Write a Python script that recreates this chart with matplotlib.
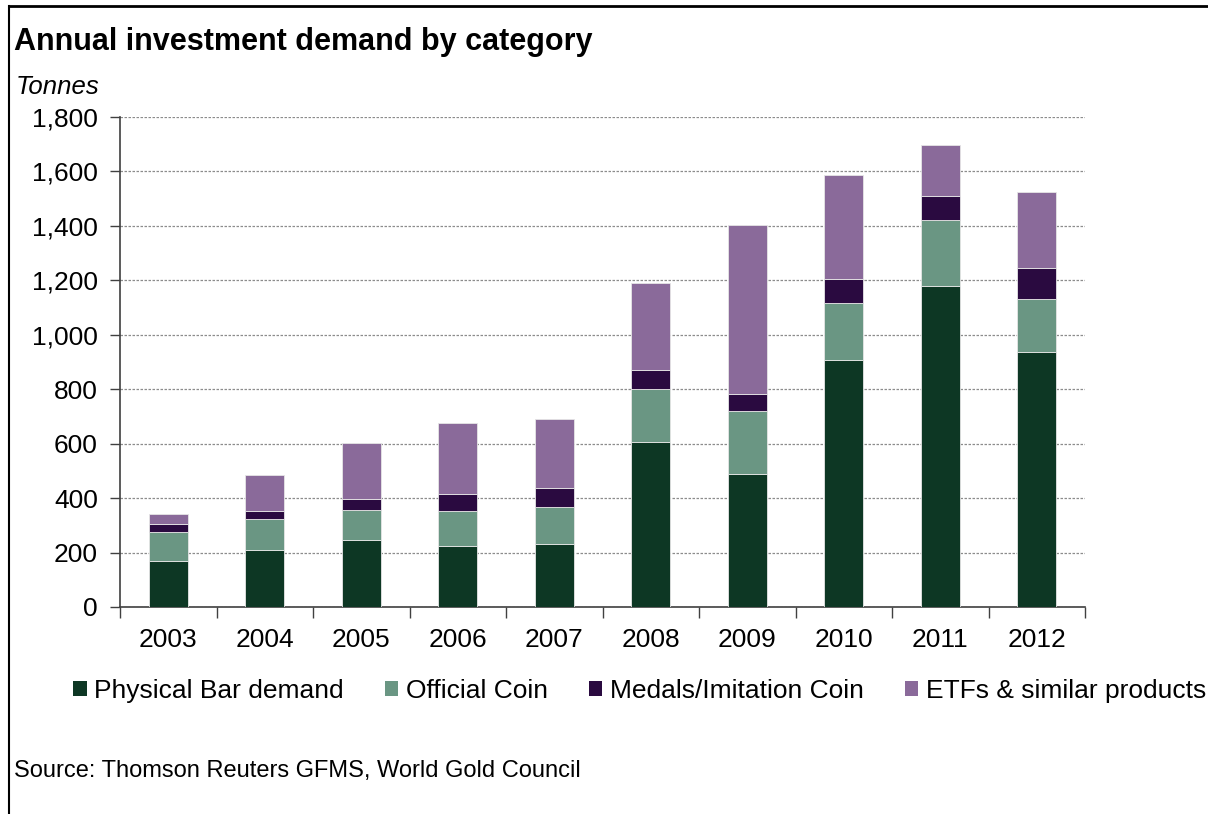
import matplotlib
matplotlib.use("Agg")
import matplotlib.pyplot as plt
from matplotlib.patches import Patch
from matplotlib.lines import Line2D
import numpy as np

plt.rcParams['font.family'] = ['Liberation Sans', 'DejaVu Sans']

years = ["2003", "2004", "2005", "2006", "2007", "2008", "2009", "2010", "2011", "2012"]
physical_bar = [170, 208, 247, 225, 231, 607, 490, 907, 1181, 936]
official_coin = [107, 116, 110, 129, 137, 195, 231, 210, 242, 196]
medals_imitation = [27, 29, 38, 60, 70, 68, 60, 89, 87, 114]
etfs = [39, 131, 206, 262, 252, 321, 621, 382, 187, 279]

series_names = ["Physical Bar demand", "Official Coin", "Medals/Imitation Coin", "ETFs & similar products"]
series_colors = ["#0d3724", "#6a9683", "#2a0a40", "#8a6a9a"]
y_ticks = [0, 200, 400, 600, 800, 1000, 1200, 1400, 1600, 1800]

W, H = 1208, 814
fig = plt.figure(figsize=(W / 100, H / 100), dpi=100)
fig.patch.set_facecolor("white")

ax = fig.add_axes([120 / W, (H - 607) / H, 965 / W, 490 / H])

x = np.arange(len(years))
bottom = np.zeros(len(years))
for vals, name, col in zip([physical_bar, official_coin, medals_imitation, etfs],
                           series_names, series_colors):
    ax.bar(x, vals, width=0.40, bottom=bottom, color=col, edgecolor="#e6e6e6",
           linewidth=0.6, label=name, zorder=3)
    bottom += np.array(vals)

ax.set_xlim(-0.5, len(years) - 0.5)
ax.set_ylim(0, 1800)
ax.set_yticks(y_ticks)
ax.set_yticklabels([f"{v:,}" for v in y_ticks], fontsize=19)
ax.yaxis.grid(True, linestyle=(0, (2, 1.2)), color="#8c8c8c", linewidth=0.9, zorder=0)

# category labels centred on bars, tick marks on category boundaries
ax.set_xticks(x)
ax.set_xticklabels(years, fontsize=19)
ax.tick_params(axis="x", length=0, pad=15)
ax.set_xticks(np.arange(-0.5, len(years)), minor=True)
ax.tick_params(axis="x", which="minor", length=8, width=1, color="#404040", direction="out")
ax.tick_params(axis="y", length=7, width=1, color="#404040", direction="out", pad=9)

for s in ["top", "right"]:
    ax.spines[s].set_visible(False)
for s in ["left", "bottom"]:
    ax.spines[s].set_color("#404040")
    ax.spines[s].set_linewidth(1.2)

fig.text(14 / W, 1 - 42 / H, "Annual investment demand by category", fontsize=22,
         fontweight="bold", va="center", ha="left")
fig.text(16 / W, 1 - 87 / H, "Tonnes", fontsize=18.5, style="italic", va="center", ha="left")
fig.text(14 / W, 1 - 771 / H, "Source: Thomson Reuters GFMS, World Gold Council",
         fontsize=17, va="center", ha="left")

handles = [Patch(facecolor=c, edgecolor="none") for c in series_colors]
fig.legend(handles, series_names, loc="center left",
           bbox_to_anchor=(73 / W, 1 - 691 / H), ncol=4, frameon=False, fontsize=19,
           handlelength=0.52, handleheight=0.52, handletextpad=0.28, columnspacing=1.55,
           borderpad=0, borderaxespad=0)

# outer frame (left and top edges)
fig.add_artist(Line2D([9 / W, 9 / W], [0, 1 - 6 / H], transform=fig.transFigure,
                      color="black", linewidth=1.5))
fig.add_artist(Line2D([9 / W, 1], [1 - 6 / H, 1 - 6 / H], transform=fig.transFigure,
                      color="black", linewidth=2))

fig.savefig("out.png", dpi=100, facecolor="white")
